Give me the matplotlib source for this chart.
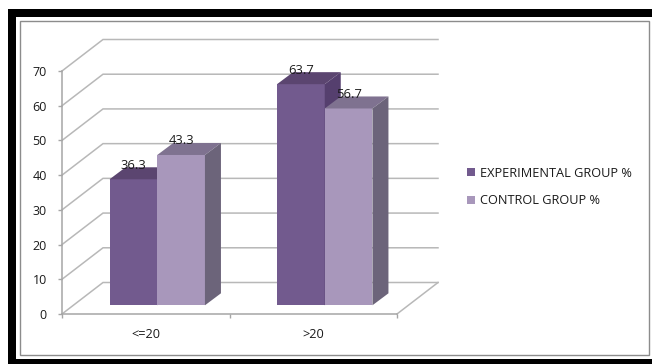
import matplotlib
matplotlib.use("Agg")
import matplotlib.pyplot as plt
from matplotlib.patches import Polygon, Rectangle, Patch

# data
categories = ["<=20", ">20"]
experimental = [36.3, 63.7]
control = [43.3, 56.7]
series_names = ["EXPERIMENTAL GROUP %", "CONTROL GROUP %"]
y_ticks = [0, 10, 20, 30, 40, 50, 60, 70]

W, H = 652, 364
plt.rcParams['font.family'] = ['Open Sans', 'DejaVu Sans']

fig = plt.figure(figsize=(W / 100, H / 100), dpi=100)
fig.patch.set_facecolor("white")

# black picture border and thin grey chart frame
for x0, y0, x1, y1 in [(8, 9, 652, 17), (8, 9, 16, 364), (8, 359, 652, 364)]:
    fig.add_artist(Rectangle((x0 / W, 1 - y1 / H), (x1 - x0) / W, (y1 - y0) / H,
                             transform=fig.transFigure, fc="black", ec="none"))
fig.add_artist(Rectangle((19.5 / W, 1 - 354.5 / H), 629 / W, 334 / H,
                         transform=fig.transFigure, fc="none", ec="#8c8c8c", lw=1))

# front plane of the 3D box, x in category units, y in value units
left, right, top, bottom = 62, 397, 71, 314
ax = fig.add_axes([left / W, 1 - bottom / H, (right - left) / W, (bottom - top) / H])
ax.set_xlim(0, len(categories))
ax.set_ylim(0, 70)
ax.patch.set_visible(False)

px_x = len(categories) / (right - left)
px_y = 70 / (bottom - top)

# depth of the box and of the bars
wall_dx, wall_dy = 41 * px_x, 31.5 * px_y
base_dx, base_dy = 11.5 * px_x, 8.7 * px_y
bar_dx, bar_dy = 16 * px_x, 12 * px_y
bar_w = 47.7 * px_x

grid_col = "#b8b8b8"
for t in y_ticks:
    ax.plot([0, wall_dx, len(categories) + wall_dx], [t, t + wall_dy, t + wall_dy],
            color=grid_col, lw=1.1, clip_on=False, zorder=1, solid_joinstyle="miter")
ax.plot([len(categories), len(categories) + wall_dx], [0, wall_dy],
        color=grid_col, lw=1.1, clip_on=False, zorder=1)


def draw_bar(x0, value, front, lid, side, z):
    x1 = x0 + bar_w
    y0 = base_dy
    y1 = base_dy + value
    ax.add_patch(Polygon([(x0, y0), (x1, y0), (x1, y1), (x0, y1)], fc=front, ec="none",
                         clip_on=False, zorder=z))
    ax.add_patch(Polygon([(x0, y1), (x1, y1), (x1 + bar_dx, y1 + bar_dy), (x0 + bar_dx, y1 + bar_dy)],
                         fc=lid, ec="none", clip_on=False, zorder=z))
    ax.add_patch(Polygon([(x1, y0), (x1 + bar_dx, y0 + bar_dy), (x1 + bar_dx, y1 + bar_dy), (x1, y1)],
                         fc=side, ec="none", clip_on=False, zorder=z))
    ax.text(x0 + bar_w / 2, y1 + 14 * px_y, str(value), ha="center", va="center",
            fontsize=9.4, color="#1a1a1a", zorder=10, clip_on=False)


for i in range(len(categories)):
    centre = i + 0.5 + base_dx
    draw_bar(centre - bar_w, experimental[i], "#725a8e", "#5b4570", "#553f6e", 3)
    draw_bar(centre, control[i], "#a897bb", "#7f7290", "#6c647a", 4)

# axes lines and ticks
for s in ["top", "right"]:
    ax.spines[s].set_visible(False)
for s in ["left", "bottom"]:
    ax.spines[s].set_color("#a6a6a6")
    ax.spines[s].set_linewidth(1.1)
    ax.spines[s].set_zorder(2)

ax.set_yticks(y_ticks)
ax.set_yticklabels([str(t) for t in y_ticks], fontsize=9, color="#1a1a1a")
ax.tick_params(axis="y", length=3, width=1, color="#a6a6a6", pad=8)
ax.set_xticks(range(len(categories) + 1))
ax.set_xticklabels([])
ax.tick_params(axis="x", which="major", length=3, width=1, color="#a6a6a6")
ax.set_xticks([i + 0.5 for i in range(len(categories))], minor=True)
ax.set_xticklabels(categories, minor=True, fontsize=9.2, color="#1a1a1a")
ax.tick_params(axis="x", which="minor", length=0, pad=10)

handles = [Patch(fc="#725a8e", label=series_names[0]), Patch(fc="#a897bb", label=series_names[1])]
fig.legend(handles=handles, loc="center left", bbox_to_anchor=(455.5 / W, 1 - 187 / H),
           frameon=False, fontsize=9.2, handlelength=0.65, handleheight=0.65,
           handletextpad=0.38, labelspacing=1.17, labelcolor="#1a1a1a")

plt.savefig("out.png", dpi=100)
